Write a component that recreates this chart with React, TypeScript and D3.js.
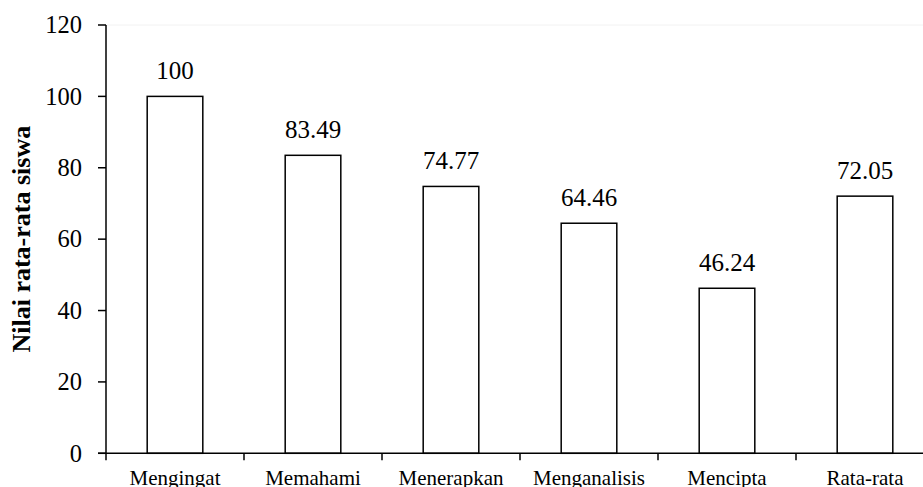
import React, { useEffect, useRef } from "react";
import * as d3 from "d3";

const categories = ["Mengingat", "Memahami", "Menerapkan", "Menganalisis", "Mencipta", "Rata-rata"];
const values = [100, 83.49, 74.77, 64.46, 46.24, 72.05];
const valueLabels = ["100", "83.49", "74.77", "64.46", "46.24", "72.05"];
const yTicks = [0, 20, 40, 60, 80, 100, 120];
const yTitle = "Nilai rata-rata siswa";

const W = 923;
const H = 487;
const FONT = "'Liberation Serif', 'Times New Roman', Times, serif";

export default function App() {
  const ref = useRef<SVGSVGElement | null>(null);

  useEffect(() => {
    document.body.style.margin = "0";
    const svg = d3.select(ref.current);
    svg.selectAll("*").remove();

    const x = d3.scaleBand<string>().domain(categories).range([106, 934]).paddingInner(0.597).paddingOuter(0.2985);
    const y = d3.scaleLinear().domain([0, 120]).range([453.3, 25]);

    // faint top line
    svg.append("line")
      .attr("x1", 106).attr("x2", W).attr("y1", y(120)).attr("y2", y(120))
      .attr("stroke", "#f2f2f2").attr("stroke-width", 1);

    // bars
    svg.append("g").selectAll("rect").data(values).join("rect")
      .attr("x", (_, i) => x(categories[i])!)
      .attr("y", (d) => y(d))
      .attr("width", x.bandwidth())
      .attr("height", (d) => y(0) - y(d))
      .attr("fill", "#fff")
      .attr("stroke", "#000")
      .attr("stroke-width", 1.5);

    // value labels
    svg.append("g").selectAll("text").data(values).join("text")
      .attr("x", (_, i) => x(categories[i])! + x.bandwidth() / 2)
      .attr("y", (d) => y(d) - 17.5)
      .attr("text-anchor", "middle")
      .attr("font-family", FONT)
      .attr("font-size", 25)
      .attr("fill", "#000")
      .text((_, i) => valueLabels[i]);

    // y axis
    const ya = svg.append("g");
    ya.append("line").attr("x1", 106).attr("x2", 106).attr("y1", y(120)).attr("y2", y(0))
      .attr("stroke", "#000").attr("stroke-width", 1.5);
    ya.selectAll("line.t").data(yTicks).join("line").attr("class", "t")
      .attr("x1", 98).attr("x2", 106).attr("y1", (d) => y(d)).attr("y2", (d) => y(d))
      .attr("stroke", "#000").attr("stroke-width", 1.5);
    ya.selectAll("text").data(yTicks).join("text")
      .attr("x", 82).attr("y", (d) => y(d) + 8.2)
      .attr("text-anchor", "end")
      .attr("font-family", FONT).attr("font-size", 24.5).attr("fill", "#000")
      .text((d) => String(d));

    // x axis
    const xa = svg.append("g");
    xa.append("line").attr("x1", 98).attr("x2", W).attr("y1", y(0)).attr("y2", y(0))
      .attr("stroke", "#000").attr("stroke-width", 1.5);
    const bounds = categories.map((c) => x(c)! - (x.step() - x.bandwidth()) / 2);
    xa.selectAll("line.t").data(bounds).join("line").attr("class", "t")
      .attr("x1", (d) => d).attr("x2", (d) => d).attr("y1", y(0)).attr("y2", y(0) + 7)
      .attr("stroke", "#000").attr("stroke-width", 1.5);
    xa.selectAll("text").data(categories).join("text")
      .attr("x", (d) => x(d)! + x.bandwidth() / 2)
      .attr("y", 484.6)
      .attr("text-anchor", "middle")
      .attr("font-family", FONT).attr("font-size", 21).attr("fill", "#000")
      .text((d) => d);

    // y title
    svg.append("text")
      .attr("transform", `translate(30, ${(y(0) + y(120)) / 2}) rotate(-90)`)
      .attr("text-anchor", "middle")
      .attr("font-family", FONT).attr("font-size", 26).attr("font-weight", "bold").attr("fill", "#000")
      .text(yTitle);
  }, []);

  return (
    <svg ref={ref} width={W} height={H} style={{ position: "absolute", left: 0, top: 0, background: "#fff" }} />
  );
}
